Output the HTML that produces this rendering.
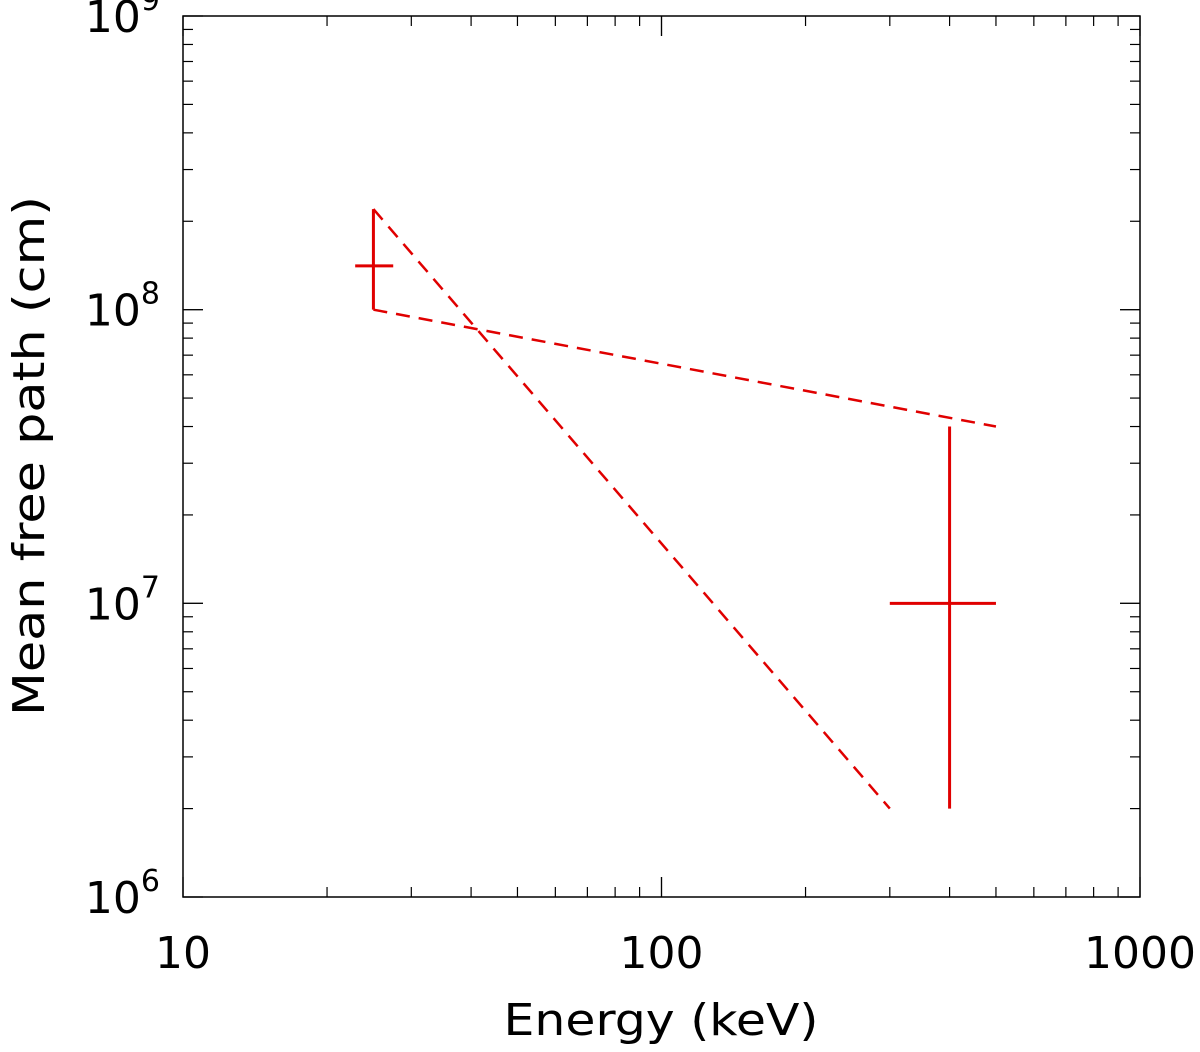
<!DOCTYPE html>
<html><head><meta charset="utf-8"><style>
html,body{margin:0;padding:0;background:#fff}
svg text{font-family:"DejaVu Sans","Liberation Sans",sans-serif;fill:#000}
</style></head><body>
<svg id="chart" width="1200" height="1047" viewBox="0 0 1200 1047" xmlns="http://www.w3.org/2000/svg">
<g id="axes"></g>
<g id="series"></g>
<text x="661" y="1035" font-size="44" text-anchor="middle" textLength="315" lengthAdjust="spacingAndGlyphs">Energy (keV)</text>
<text transform="translate(44,456) rotate(-90)" font-size="44" text-anchor="middle" textLength="520" lengthAdjust="spacingAndGlyphs">Mean free path (cm)</text>
</svg>
<script>
const xTickValues = [10, 100, 1000];
const xTickLabels = ["10", "100", "1000"];
const yTickExps = [6, 7, 8, 9];
const pointEnergy = [25, 400];
const pointValue = [1.41e8, 1e7];
const pointELow = [22.9, 300];
const pointEHigh = [27.5, 500];
const pointVLow = [1e8, 2e6];
const pointVHigh = [2.2e8, 4e7];
const lineAEnergy = [25, 300];
const lineAValue = [2.2e8, 2e6];
const lineBEnergy = [25, 500];
const lineBValue = [1e8, 4e7];

const L=183,R=1140,T=16,B=897;
const X=v=>L+(Math.log10(v)-1)/2*(R-L);
const Y=v=>B-(Math.log10(v)-6)/3*(B-T);
const NS="http://www.w3.org/2000/svg";
function mk(tag,attrs,parent){const e=document.createElementNS(NS,tag);for(const k in attrs)e.setAttribute(k,attrs[k]);parent.appendChild(e);return e;}
const ax=document.getElementById('axes'), se=document.getElementById('series');
const frame=mk('rect',{x:L,y:T,width:R-L,height:B-T,fill:'none',stroke:'#000','stroke-width':1.5},ax);


for(let d=10;d<1000;d*=10){for(let m=1;m<=10;m++){const v=d*m;if(v>1000)continue;const x=X(v);const len=(m===1||m===10)?20:10;
 const t1=mk('line',{x1:x,y1:B,x2:x,y2:B-len,stroke:'#000','stroke-width':1.2},ax);
 
 
 const t2=mk('line',{x1:x,y1:T,x2:x,y2:T+len,stroke:'#000','stroke-width':1.2},ax);
 
 }}
xTickValues.forEach((v,i)=>{const t=mk('text',{x:X(v),y:968,'font-size':44,'text-anchor':'middle'},ax);t.textContent=xTickLabels[i];
 
 });
for(let e=6;e<9;e++){for(let m=1;m<=10;m++){const v=m*Math.pow(10,e);const y=Y(v);const len=(m===1||m===10)?20:10;
 const t1=mk('line',{x1:L,y1:y,x2:L+len,y2:y,stroke:'#000','stroke-width':1.2},ax);
 
 
 const t2=mk('line',{x1:R,y1:y,x2:R-len,y2:y,stroke:'#000','stroke-width':1.2},ax);
 
 }}
yTickExps.forEach(e=>{const y=Y(Math.pow(10,e));const t=mk('text',{x:160,y:y+16,'font-size':44,'text-anchor':'end'},ax);
 t.innerHTML='10<tspan dy="-22" font-size="30">'+e+'</tspan>';
 
 });
[[lineAEnergy,lineAValue,'model-line-a'],[lineBEnergy,lineBValue,'model-line-b']].forEach(([xs,ys,n])=>{
 const l=mk('line',{x1:X(xs[0]),y1:Y(ys[0]),x2:X(xs[1]),y2:Y(ys[1]),stroke:'#e00000','stroke-width':2.5,'stroke-dasharray':'14 9'},se);
 
 });
pointEnergy.forEach((e,i)=>{
 const h=mk('line',{x1:X(pointELow[i]),y1:Y(pointValue[i]),x2:X(pointEHigh[i]),y2:Y(pointValue[i]),stroke:'#e00000','stroke-width':3},se);
 
 
 const v=mk('line',{x1:X(e),y1:Y(pointVLow[i]),x2:X(e),y2:Y(pointVHigh[i]),stroke:'#e00000','stroke-width':3},se);
 
 });
</script>
</body></html>
